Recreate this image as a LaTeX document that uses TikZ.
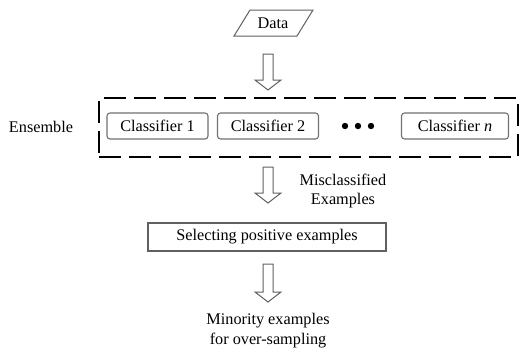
\documentclass[tikz,border=0pt]{standalone}
\usepackage{fontspec}
\setmainfont{Liberation Serif}
\newfontfamily\diagfont{Liberation Serif}
\usetikzlibrary{calc}
\definecolor{boxgray}{HTML}{707070}
\definecolor{arrowgray}{HTML}{606060}
\tikzset{
  lbl/.style={font=\diagfont\fontsize{16.3}{20}\selectfont, inner sep=0pt, align=center},
  clsbox/.style={lbl, draw=boxgray, line width=1.1bp, rounded corners=3bp, minimum height=26bp},
  selbox/.style={lbl, draw=arrowgray, line width=1.1bp, minimum width=238bp, minimum height=28bp},
  ensbox/.style={draw=black, line width=2.7bp, dash pattern=on 22bp off 8bp, minimum width=419bp, minimum height=59bp, inner sep=0pt},
  blockarrow/.style={draw=arrowgray, line width=1bp, fill=white, line join=miter},
  databox/.style={draw=arrowgray, line width=1bp},
  dotmark/.style={fill=black}
}
\newcommand\hollowarrow[2]{%
  \draw[blockarrow] ($(#1)+(-5,0)$) -- ($(#2)+(-5,-10)$) -- ($(#2)+(-13,-10)$) -- (#2)
    -- ($(#2)+(13,-10)$) -- ($(#2)+(5,-10)$) -- ($(#1)+(5,0)$) -- cycle;}
\begin{document}
\begin{tikzpicture}[x=1bp,y=-1bp]
\useasboundingbox (0,0) rectangle (520,351);
% Data
\coordinate (d1) at (234,36);
\coordinate (d2) at (250,10);
\coordinate (d3) at (313,10);
\coordinate (d4) at (297,36);
\draw[databox] (d1) -- (d2) -- (d3) -- (d4) -- cycle;
\node[lbl] (data) at (273,23.5) {Data};
% Ensemble
\node[ensbox] (ens) at (308.5,127.5) {};
\node[lbl] (enslabel) at (41,127) {Ensemble};
\node[clsbox, minimum width=101bp] (c1) at (157.5,126) {Classifier 1};
\node[clsbox, minimum width=101bp] (c2) at (268,126) {Classifier 2};
\node[clsbox, minimum width=107bp] (cn) at (455,126) {Classifier \textit{n}};
\fill[dotmark] (345,126) circle (3.2);
\fill[dotmark] (358,126) circle (3.2);
\fill[dotmark] (371,126) circle (3.2);
% arrows
\coordinate (a1s) at (268,54);
\coordinate (a1e) at (268,90);
\hollowarrow{a1s}{a1e}
\coordinate (a2s) at (268,167);
\coordinate (a2e) at (268,203);
\hollowarrow{a2s}{a2e}
\node[lbl] (mis) at (343,191) {Misclassified\\Examples};
\node[selbox] (sel) at (267,237) {Selecting positive examples};
\coordinate (a3s) at (268,264);
\coordinate (a3e) at (268,302);
\hollowarrow{a3s}{a3e}
\node[lbl] (min) at (268,331) {Minority examples\\for over-sampling};
\end{tikzpicture}
\end{document}
